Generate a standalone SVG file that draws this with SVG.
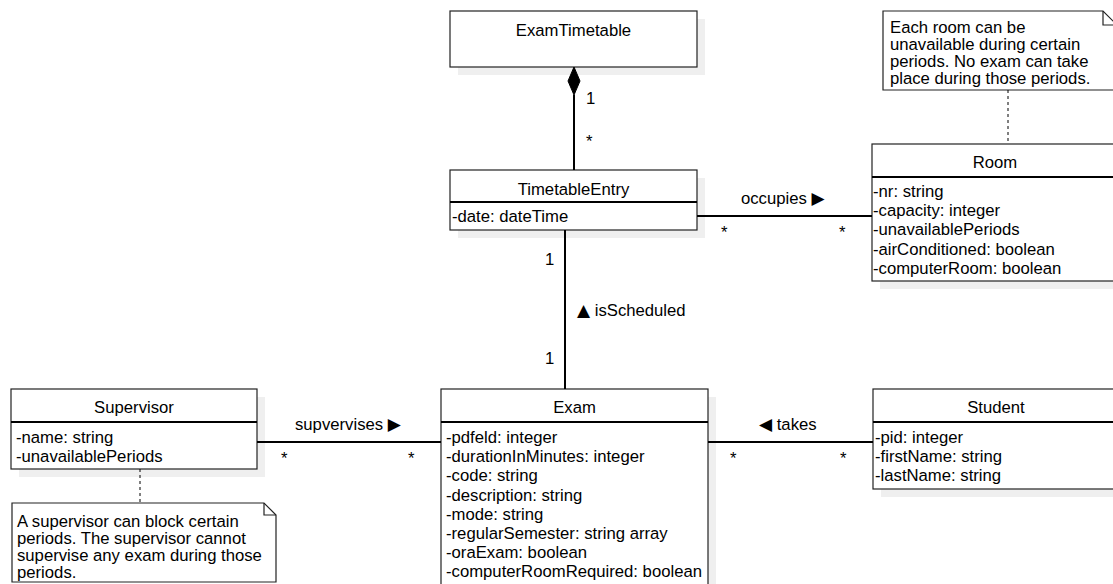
<svg xmlns="http://www.w3.org/2000/svg" width="1113" height="584" viewBox="0 0 1113 584">
<style>
text{font-family:"Liberation Sans",Arial,Helvetica,sans-serif;font-size:16.7px;fill:#000}
.c{text-anchor:middle}
.box{fill:#fff;stroke:#222;stroke-width:1.2}
.sh{fill:#efefef;stroke:none}
.div{stroke:#000;stroke-width:2}
.con{stroke:#000;stroke-width:2;fill:none}
.dash{stroke:#000;stroke-width:1;stroke-dasharray:3 3;fill:none}
.note{fill:#fff;stroke:#222;stroke-width:1.2}
.sym{font-family:"DejaVu Sans",sans-serif;font-size:17px}
</style>
<rect width="1113" height="584" fill="#fff"/>

<g id="ExamTimetable">
  <rect class="sh" x="458" y="19" width="247" height="56"/>
  <rect class="box" x="450" y="11" width="247" height="56"/>
  <text class="c" x="573.5" y="36">ExamTimetable</text>
</g>

<g id="TimetableEntry">
  <rect class="sh" x="458" y="178" width="247" height="60"/>
  <rect class="box" x="450" y="170" width="247" height="60"/>
  <line class="div" x1="450" y1="202" x2="697" y2="202"/>
  <text class="c" x="573.5" y="195">TimetableEntry</text>
  <text x="452" y="222">-date: dateTime</text>
</g>

<g id="RoomNote">
  <path class="note" d="M883,11 H1103 L1117,25 V90 H883 Z"/>
  <path d="M1103,11 V25 H1117" fill="none" stroke="#222" stroke-width="1.2"/>
  <text x="890" y="33">Each room can be</text>
  <text x="890" y="50">unavailable during certain</text>
  <text x="890" y="67">periods. No exam can take</text>
  <text x="890" y="84">place during those periods.</text>
</g>

<g id="Room">
  <rect class="sh" x="880" y="152" width="246" height="137"/>
  <rect class="box" x="872" y="144" width="246" height="137"/>
  <line class="div" x1="872" y1="177" x2="1118" y2="177"/>
  <text class="c" x="995" y="167.5">Room</text>
  <text x="873" y="197">-nr: string</text>
  <text x="873" y="216.2">-capacity: integer</text>
  <text x="873" y="235.4">-unavailablePeriods</text>
  <text x="873" y="254.6">-airConditioned: boolean</text>
  <text x="873" y="273.8">-computerRoom: boolean</text>
</g>

<g id="Supervisor">
  <rect class="sh" x="19" y="397" width="246" height="80"/>
  <rect class="box" x="11" y="389" width="246" height="80"/>
  <line class="div" x1="11" y1="422" x2="257" y2="422"/>
  <text class="c" x="134" y="413">Supervisor</text>
  <text x="16" y="443">-name: string</text>
  <text x="16" y="462.2">-unavailablePeriods</text>
</g>

<g id="SupervisorNote">
  <path class="note" d="M12,503 H264 L276,515 V582 H12 Z"/>
  <path d="M264,503 V515 H276" fill="none" stroke="#222" stroke-width="1.2"/>
  <text x="17" y="526.5">A supervisor can block certain</text>
  <text x="17" y="543.5">periods. The supervisor cannot</text>
  <text x="17" y="560.5">supervise any exam during those</text>
  <text x="17" y="577.5">periods.</text>
</g>

<g id="Exam">
  <rect class="sh" x="449" y="397" width="267" height="200"/>
  <rect class="box" x="441" y="389" width="267" height="200"/>
  <line class="div" x1="441" y1="422" x2="708" y2="422"/>
  <text class="c" x="574.5" y="413">Exam</text>
  <text x="446" y="443">-pdfeld: integer</text>
  <text x="446" y="462.2">-durationInMinutes: integer</text>
  <text x="446" y="481.4">-code: string</text>
  <text x="446" y="500.6">-description: string</text>
  <text x="446" y="519.8">-mode: string</text>
  <text x="446" y="539">-regularSemester: string array</text>
  <text x="446" y="558.2">-oraExam: boolean</text>
  <text x="446" y="577.4">-computerRoomRequired: boolean</text>
</g>

<g id="Student">
  <rect class="sh" x="881" y="397" width="246" height="100"/>
  <rect class="box" x="873" y="389" width="246" height="100"/>
  <line class="div" x1="873" y1="422" x2="1119" y2="422"/>
  <text class="c" x="996" y="413">Student</text>
  <text x="875" y="443">-pid: integer</text>
  <text x="875" y="462.2">-firstName: string</text>
  <text x="875" y="481.4">-lastName: string</text>
</g>

<g id="connectors">
  <line class="con" x1="574" y1="95" x2="574" y2="170"/>
  <polygon points="574,67 580,81 574,95 568,81" fill="#000" stroke="#000" stroke-width="1"/>
  <line class="con" x1="697" y1="216" x2="872" y2="216"/>
  <line class="con" x1="565" y1="230" x2="565" y2="389"/>
  <line class="con" x1="257" y1="442" x2="441" y2="442"/>
  <line class="con" x1="708" y1="442" x2="873" y2="442"/>
  <line class="dash" x1="1008" y1="90" x2="1008" y2="144"/>
  <line class="dash" x1="140" y1="469" x2="140" y2="503"/>
  <text x="586" y="104">1</text>
  <text x="586" y="147">*</text>
  <text x="741" y="204">occupies <tspan class="sym">▶</tspan></text>
  <text x="721" y="238">*</text>
  <text x="839" y="238">*</text>
  <text x="545" y="265">1</text>
  <text x="545" y="364">1</text>
  <text x="577" y="316"><tspan class="sym">▲</tspan> isScheduled</text>
  <text x="295" y="430">supvervises <tspan class="sym">▶</tspan></text>
  <text x="281" y="464">*</text>
  <text x="408" y="464">*</text>
  <text x="759" y="430"><tspan class="sym">◀</tspan> takes</text>
  <text x="730" y="464">*</text>
  <text x="840" y="464">*</text>
</g>
</svg>
